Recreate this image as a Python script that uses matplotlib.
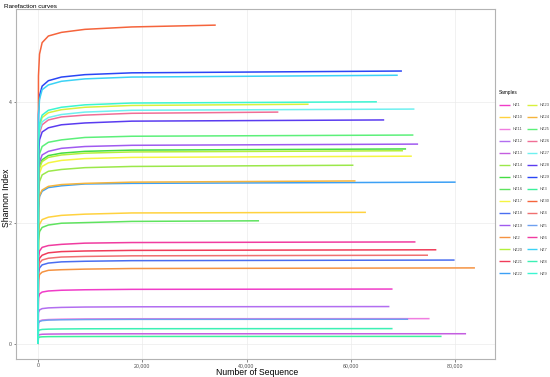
import matplotlib
matplotlib.use("Agg")
import matplotlib.pyplot as plt
from matplotlib.ticker import FuncFormatter

plt.rcParams['font.family'] = ['Liberation Sans', 'DejaVu Sans']

# sample names in legend order (sorted as text, like ggplot does)
samples = ['HZ1', 'HZ10', 'HZ11', 'HZ12', 'HZ13', 'HZ14', 'HZ15', 'HZ16',
           'HZ17', 'HZ18', 'HZ19', 'HZ2', 'HZ20', 'HZ21', 'HZ22',
           'HZ23', 'HZ24', 'HZ25', 'HZ26', 'HZ27', 'HZ28', 'HZ29', 'HZ3',
           'HZ30', 'HZ4', 'HZ5', 'HZ6', 'HZ7', 'HZ8', 'HZ9']

# rarefaction depths shared by every curve, the last point is each sample's own depth
depth_steps = [1, 100, 300, 800, 2000, 4500, 9000, 18000]
seq_end = [68000, 62900, 75100, 67400, 82100, 60500, 70600, 42400,
           71700, 79900, 72900, 83800, 70000, 76400, 80100,
           51900, 60900, 72000, 46100, 72200, 66400, 69800, 77400,
           34100, 74800, 71000, 72400, 69000, 68000, 65000]

shannon = [
    [0, .764, .828, .860, .878, .890, .898, .905, .91],    # HZ1
    [0, 1.83, 1.98, 2.06, 2.10, 2.13, 2.15, 2.17, 2.18],   # HZ10
    [0, .353, .382, .397, .405, .411, .415, .418, .42],    # HZ11
    [0, .521, .564, .586, .598, .606, .612, .616, .62],    # HZ12
    [0, .143, .155, .161, .164, .166, .168, .169, .17],    # HZ13
    [0, 2.49, 2.69, 2.80, 2.86, 2.89, 2.92, 2.94, 2.96],   # HZ14
    [0, 2.71, 2.94, 3.05, 3.12, 3.16, 3.19, 3.21, 3.23],   # HZ15
    [0, 1.71, 1.86, 1.93, 1.97, 2.00, 2.01, 2.03, 2.04],   # HZ16
    [0, 2.61, 2.83, 2.94, 3.00, 3.04, 3.07, 3.09, 3.11],   # HZ17
    [0, 1.17, 1.26, 1.31, 1.34, 1.36, 1.37, 1.38, 1.39],   # HZ18
    [0, 2.78, 3.01, 3.13, 3.19, 3.24, 3.27, 3.29, 3.31],   # HZ19
    [0, 1.06, 1.15, 1.19, 1.22, 1.23, 1.24, 1.25, 1.26],   # HZ2
    [0, 2.69, 2.91, 3.02, 3.09, 3.13, 3.16, 3.18, 3.20],   # HZ20
    [0, 1.31, 1.42, 1.47, 1.51, 1.53, 1.54, 1.55, 1.56],   # HZ21
    [0, 2.25, 2.44, 2.53, 2.59, 2.62, 2.65, 2.66, 2.68],   # HZ22
    [0, 3.33, 3.61, 3.75, 3.83, 3.88, 3.92, 3.95, 3.97],   # HZ23
    [0, 2.27, 2.46, 2.55, 2.61, 2.64, 2.66, 2.68, 2.70],   # HZ24
    [0, 2.91, 3.15, 3.27, 3.34, 3.38, 3.42, 3.44, 3.46],   # HZ25
    [0, 3.23, 3.49, 3.63, 3.71, 3.76, 3.79, 3.82, 3.84],   # HZ26
    [0, 3.27, 3.54, 3.68, 3.75, 3.80, 3.84, 3.87, 3.89],   # HZ27
    [0, 3.12, 3.38, 3.51, 3.58, 3.63, 3.66, 3.69, 3.71],   # HZ28
    [0, 3.80, 4.11, 4.27, 4.36, 4.42, 4.46, 4.49, 4.52],   # HZ29
    [0, .106, .115, .119, .122, .123, .124, .125, .126],   # HZ3
    [0, 4.44, 4.80, 4.99, 5.10, 5.16, 5.21, 5.25, 5.28],   # HZ30
    [0, 1.23, 1.34, 1.39, 1.42, 1.44, 1.45, 1.46, 1.47],   # HZ4
    [0, .344, .373, .387, .396, .401, .405, .408, .41],    # HZ5
    [0, 1.42, 1.54, 1.60, 1.63, 1.65, 1.67, 1.68, 1.69],   # HZ6
    [0, 3.74, 4.05, 4.21, 4.29, 4.35, 4.39, 4.42, 4.45],   # HZ7
    [0, .214, .232, .241, .246, .249, .252, .253, .255],   # HZ8
    [0, 3.37, 3.65, 3.79, 3.87, 3.92, 3.96, 3.99, 4.01],   # HZ9
]

colors = ['#f03cc8', '#ffd23f', '#f07de0', '#b26ef0', '#c45ee0', '#9be84a',
          '#44dd44', '#5fe35f', '#f5f542', '#4a6ef0', '#a05af0', '#f59342',
          '#b4f03c', '#f03c5a', '#3ca0f5',
          '#d8f03c', '#f5b43c', '#5cf07a', '#f06e96', '#6ef0f0', '#5a3cf0',
          '#2a46f5', '#3cf09b', '#f5643c', '#f07070', '#6ea0f0', '#f03ca0',
          '#3cd2f5', '#3cf0b4', '#3cf5d2']

x_ticks = [0, 20000, 40000, 60000, 80000]
y_ticks = [0, 2, 4]

fig = plt.figure(figsize=(5.5, 3.77), dpi=100)
ax = fig.add_axes([0.029, 0.047, 0.871, 0.928])

for name, end, vals, col in zip(samples, seq_end, shannon, colors):
    ax.plot(depth_steps + [end], vals, color=col, lw=1.1, label=name,
            solid_capstyle='butt', solid_joinstyle='round')

ax.set_xlim(-4220, 87650)
ax.set_ylim(-0.253, 5.54)
ax.set_xticks(x_ticks)
ax.set_yticks(y_ticks)
ax.xaxis.set_major_formatter(FuncFormatter(lambda v, p: f'{int(v):,}'))
ax.grid(True, color='#ebebeb', lw=0.5)
ax.set_axisbelow(True)
for sp in ax.spines.values():
    sp.set_color('#b3b3b3')
    sp.set_linewidth(0.8)
ax.tick_params(labelsize=3.8, length=1.8, width=0.5, color='#555555',
               labelcolor='#4d4d4d', pad=1.0)

# axis titles placed by hand, the panel fills nearly the whole figure
fig.text(0.467, 0.011, 'Number of Sequence', fontsize=6.2, ha='center', va='center')
fig.text(0.011, 0.475, 'Shannon Index', fontsize=6.2, rotation=90,
         ha='center', va='center')
fig.text(0.007, 0.984, 'Rarefaction curves', fontsize=4.6, va='center')

leg = ax.legend(ncol=2, loc='upper left', bbox_to_anchor=(1.003, 0.778),
                frameon=False, fontsize=2.9, title='Samples',
                title_fontsize=3.4, handlelength=2.6, handletextpad=0.7,
                columnspacing=1.0, labelspacing=2.0, borderaxespad=0.3)
leg._legend_box.align = 'left'
for lh in leg.get_lines():
    lh.set_linewidth(1.0)
for t in leg.get_texts():
    t.set_color('#4d4d4d')

fig.savefig('out.png', dpi=100)
